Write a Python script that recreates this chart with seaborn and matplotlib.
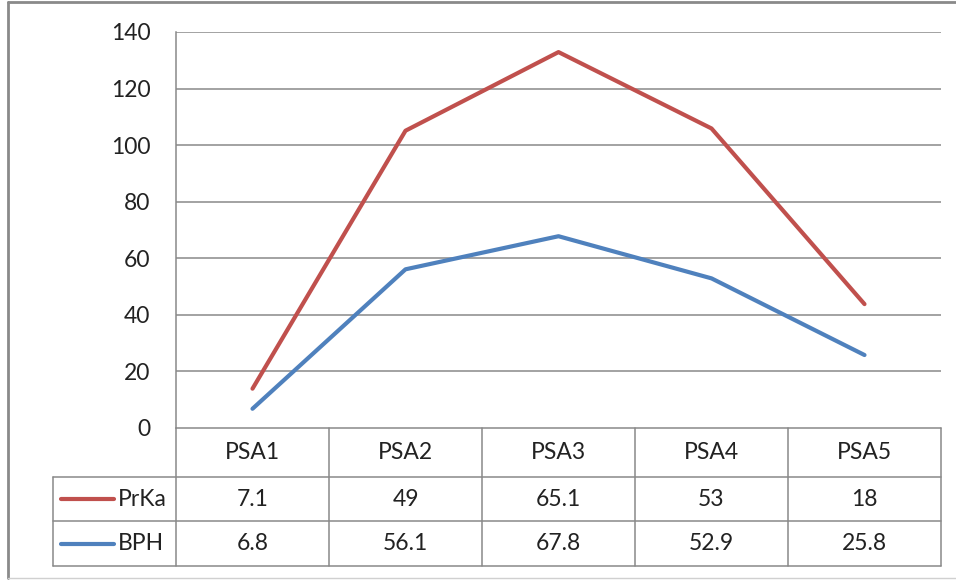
import numpy as np
import pandas as pd
import matplotlib
matplotlib.use("Agg")
import matplotlib.pyplot as plt
import seaborn as sns

categories = ["PSA1", "PSA2", "PSA3", "PSA4", "PSA5"]
prka = [7.1, 49, 65.1, 53, 18]
bph = [6.8, 56.1, 67.8, 52.9, 25.8]
y_ticks = [0, 20, 40, 60, 80, 100, 120, 140]

RED = "#C0504D"
BLUE = "#4F81BD"
GRID = "#898989"
FONT = "Lato"
FS = 16.5

sns.set_theme(style="white")
plt.rcParams["font.family"] = [FONT, "DejaVu Sans"]

W, H = 956, 581
fig = plt.figure(figsize=(W / 100, H / 100), dpi=100)

# plot area in pixel terms
L, R, T, B = 176, 941, 32, 428


def fx(px):
    return px / W


def fy(py):
    return 1 - py / H


ax = fig.add_axes([fx(L), fy(B), fx(R) - fx(L), fy(T) - fy(B)])

# stacked line chart: BPH at the bottom, PrKa stacked on top of it
df = pd.DataFrame({
    "x": np.arange(len(categories)),
    "BPH": np.array(bph),
    "PrKa": np.array(bph) + np.array(prka),
})
sns.lineplot(data=df, x="x", y="PrKa", color=RED, linewidth=3.0, ax=ax,
             solid_capstyle="round")
sns.lineplot(data=df, x="x", y="BPH", color=BLUE, linewidth=3.0, ax=ax,
             solid_capstyle="round")

ax.set_xlim(-0.5, len(categories) - 0.5)
ax.set_ylim(0, 140)
ax.set_yticks(y_ticks)
ax.set_yticklabels([str(v) for v in y_ticks], fontsize=FS, color="#222222")
ax.tick_params(axis="y", length=0, pad=18.5)
ax.set_xticks([])
ax.set_xlabel("")
ax.set_ylabel("")
for v in y_ticks[1:]:
    ax.axhline(v, color=GRID, linewidth=1.1, zorder=0)
for s in ["top", "right", "bottom"]:
    ax.spines[s].set_visible(False)
ax.spines["left"].set_color(GRID)
ax.spines["left"].set_linewidth(1.1)

# data table below the plot
col_w = (R - L) / len(categories)
row_edges = [428, 477, 521, 566]
tab_left = 53
line_kw = dict(color=GRID, linewidth=1.1, transform=fig.transFigure)

# horizontal rules
fig.add_artist(plt.Line2D([fx(L), fx(R)], [fy(row_edges[0])] * 2, **line_kw))
for ry in row_edges[1:]:
    fig.add_artist(plt.Line2D([fx(tab_left), fx(R)], [fy(ry)] * 2, **line_kw))
# vertical rules
fig.add_artist(plt.Line2D([fx(L), fx(L)], [fy(B), fy(row_edges[-1])], **line_kw))
fig.add_artist(plt.Line2D([fx(tab_left), fx(tab_left)],
                          [fy(row_edges[1]), fy(row_edges[-1])], **line_kw))
for i in range(1, len(categories) + 1):
    xx = L + i * col_w
    fig.add_artist(plt.Line2D([fx(xx), fx(xx)], [fy(row_edges[0]), fy(row_edges[-1])], **line_kw))

text_kw = dict(fontsize=FS, color="#222222", ha="center", va="center",
               transform=fig.transFigure)
rows_mid = [(row_edges[i] + row_edges[i + 1]) / 2 for i in range(3)]
for i, cat in enumerate(categories):
    cx = L + (i + 0.5) * col_w
    fig.text(fx(cx), fy(rows_mid[0]), cat, **text_kw)
    fig.text(fx(cx), fy(rows_mid[1]), f"{prka[i]:g}", **text_kw)
    fig.text(fx(cx), fy(rows_mid[2]), f"{bph[i]:g}", **text_kw)

# legend keys inside the table
for name, color, ym in [("PrKa", RED, rows_mid[1]), ("BPH", BLUE, rows_mid[2])]:
    fig.add_artist(plt.Line2D([fx(61), fx(114)], [fy(ym)] * 2, color=color,
                              linewidth=3.0, solid_capstyle="round",
                              transform=fig.transFigure))
    fig.text(fx(118), fy(ym), name, fontsize=FS, color="#222222",
             ha="left", va="center", transform=fig.transFigure)

# outer chart border
border = dict(color="#8a8a8a", linewidth=2.0, transform=fig.transFigure)
fig.add_artist(plt.Line2D([fx(8), fx(W)], [fy(2)] * 2, **border))
fig.add_artist(plt.Line2D([fx(8), fx(8)], [fy(2), fy(578)], **border))
fig.add_artist(plt.Line2D([fx(8), fx(W)], [fy(578)] * 2, color="#d0d0d0",
                          linewidth=1.0, transform=fig.transFigure))

fig.savefig("out.png", dpi=100)
